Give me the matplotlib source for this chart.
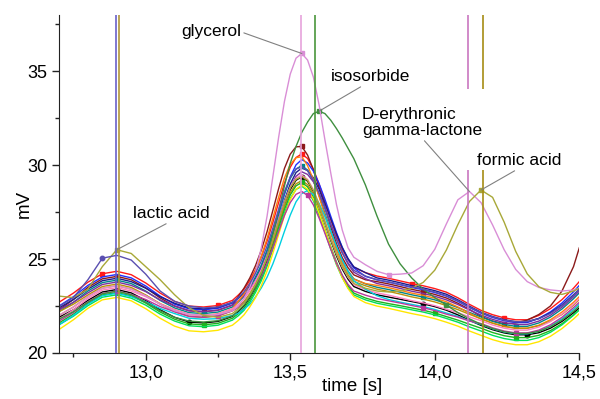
import matplotlib
matplotlib.use("Agg")
import matplotlib.pyplot as plt
from matplotlib.ticker import MultipleLocator, FuncFormatter

plt.rcParams["font.family"] = ["Liberation Sans", "DejaVu Sans"]

# sampling times of the exported traces (s), finer around the main peak
time_s = [12.70, 12.75, 12.80, 12.85, 12.90, 12.95, 13.00, 13.05, 13.10, 13.15,
          13.20, 13.25, 13.30,
          13.32, 13.34, 13.36, 13.38, 13.40, 13.42, 13.44, 13.46, 13.48, 13.50,
          13.52, 13.54, 13.56, 13.58, 13.60, 13.62, 13.64, 13.66, 13.68, 13.70,
          13.72,
          13.76, 13.80, 13.84, 13.88, 13.92, 13.96, 14.00, 14.04, 14.08, 14.12,
          14.16, 14.20, 14.24, 14.28, 14.32, 14.36, 14.40, 14.44, 14.48, 14.50]

# detector signal per run (mV)
run_black = [21.9, 22.3, 22.8, 23.25, 23.38, 23.2, 22.8, 22.3, 21.9, 21.65, 21.6, 21.68, 21.95,
             22.2, 22.5, 22.95, 23.5, 24.15, 24.95, 25.9, 26.92, 27.9, 28.7, 29.2, 29.38, 29.15, 28.6, 27.82, 26.92, 26.01, 25.17, 24.47, 23.93, 23.54,
             23.28, 23.1, 22.98, 22.86, 22.74, 22.62, 22.47, 22.28, 22.03, 21.74, 21.47, 21.24, 21.07, 20.97, 20.97, 21.08, 21.32, 21.68, 22.14, 22.4]
run_red = [22.7, 23.19, 23.77, 24.22, 24.35, 24.17, 23.73, 23.19, 22.75, 22.5, 22.45, 22.53, 22.8,
           23.08, 23.39, 23.86, 24.44, 25.12, 25.96, 26.96, 28.02, 29.05, 29.89, 30.41, 30.6, 30.36, 29.79, 28.99, 28.05, 27.11, 26.24, 25.52, 24.96, 24.56,
           24.28, 24.1, 23.98, 23.84, 23.7, 23.58, 23.43, 23.24, 22.94, 22.59, 22.27, 22.04, 21.87, 21.77, 21.77, 22.0, 22.36, 22.84, 23.45, 23.8]
run_wine = [22.3, 22.85, 23.5, 23.95, 24.08, 23.9, 23.47, 22.93, 22.5, 22.25, 22.2, 22.28, 22.55,
            23.0, 23.45, 23.99, 24.66, 25.48, 26.47, 27.6, 28.76, 29.83, 30.59, 30.98, 31.0, 30.54, 29.76, 28.81, 27.77, 26.74, 25.82, 25.08, 24.54, 24.16,
            23.9, 23.8, 23.68, 23.54, 23.39, 23.27, 23.12, 22.93, 22.65, 22.32, 21.95, 21.7, 21.55, 21.6, 21.75, 22.05, 22.5, 23.3, 24.6, 25.6]
run_blue = [22.5, 23.0, 23.6, 24.05, 24.18, 24.0, 23.57, 23.03, 22.6, 22.35, 22.3, 22.38, 22.65,
            22.92, 23.23, 23.6, 24.05, 24.64, 25.4, 26.34, 27.39, 28.46, 29.38, 30.02, 30.3, 30.12, 29.69, 29.01, 28.19, 27.29, 26.41, 25.63, 25.0, 24.53,
            24.08, 23.9, 23.78, 23.64, 23.49, 23.37, 23.22, 23.03, 22.75, 22.42, 22.12, 21.89, 21.72, 21.62, 21.62, 21.84, 22.19, 22.66, 23.26, 23.6]
run_navy = [22.4, 22.85, 23.4, 23.85, 23.98, 23.8, 23.45, 23.0, 22.65, 22.4, 22.35, 22.43, 22.7,
            22.93, 23.2, 23.58, 23.99, 24.54, 25.24, 26.13, 27.12, 28.13, 29.0, 29.61, 29.85, 29.72, 29.33, 28.72, 27.98, 27.15, 26.34, 25.61, 25.03, 24.59,
            24.28, 24.0, 23.88, 23.74, 23.59, 23.47, 23.32, 23.13, 22.83, 22.49, 22.17, 21.94, 21.77, 21.67, 21.67, 21.84, 22.14, 22.56, 23.1, 23.4]
run_teal = [22.2, 22.7, 23.3, 23.75, 23.88, 23.7, 23.3, 22.8, 22.4, 22.15, 22.1, 22.18, 22.45,
            22.71, 23.01, 23.47, 24.02, 24.68, 25.49, 26.46, 27.49, 28.48, 29.29, 29.8, 29.98, 29.74, 29.18, 28.37, 27.44, 26.5, 25.64, 24.91, 24.36, 23.95,
            23.68, 23.5, 23.38, 23.24, 23.1, 22.98, 22.83, 22.64, 22.42, 22.16, 21.92, 21.69, 21.52, 21.42, 21.42, 21.6, 21.91, 22.34, 22.89, 23.2]
run_purple = [22.3, 22.7, 23.2, 23.65, 23.78, 23.6, 23.27, 22.83, 22.5, 22.25, 22.2, 22.28, 22.55,
              22.78, 23.05, 23.42, 23.83, 24.37, 25.07, 25.95, 26.94, 27.94, 28.81, 29.41, 29.65, 29.51, 29.12, 28.49, 27.74, 26.89, 26.07, 25.33, 24.74, 24.3,
              23.96, 23.7, 23.58, 23.44, 23.29, 23.17, 23.02, 22.83, 22.58, 22.29, 22.02, 21.79, 21.62, 21.52, 21.52, 21.7, 22.01, 22.44, 22.99, 23.3]
run_orange = [22.0, 22.45, 23.0, 23.45, 23.58, 23.4, 23.07, 22.63, 22.3, 22.05, 22.0, 22.08, 22.35,
              22.75, 23.15, 23.72, 24.37, 25.16, 26.1, 27.19, 28.3, 29.32, 30.04, 30.4, 30.45, 29.98, 29.23, 28.32, 27.34, 26.37, 25.5, 24.8, 24.29, 23.93,
              23.7, 23.6, 23.48, 23.34, 23.19, 23.07, 22.92, 22.73, 22.45, 22.12, 21.82, 21.59, 21.42, 21.32, 21.32, 21.48, 21.77, 22.18, 22.7, 23.0]
run_golden = [22.2, 22.6, 23.09, 23.54, 23.67, 23.49, 23.09, 22.6, 22.2, 21.95, 21.9, 21.98, 22.25,
              22.46, 22.74, 23.16, 23.68, 24.29, 25.04, 25.92, 26.88, 27.8, 28.54, 29.01, 29.18, 28.97, 28.46, 27.74, 26.92, 26.08, 25.31, 24.66, 24.16, 23.81,
              23.58, 23.4, 23.28, 23.14, 22.99, 22.87, 22.72, 22.53, 22.31, 22.06, 21.82, 21.59, 21.42, 21.32, 21.32, 21.45, 21.7, 22.05, 22.55, 22.85]
run_pink = [21.8, 22.3, 22.9, 23.35, 23.48, 23.3, 23.0, 22.6, 22.3, 22.05, 22.0, 22.08, 22.35,
            22.58, 22.87, 23.3, 23.83, 24.45, 25.22, 26.13, 27.12, 28.06, 28.83, 29.31, 29.48, 29.25, 28.7, 27.92, 27.02, 26.11, 25.27, 24.57, 24.03, 23.64,
            23.38, 23.2, 23.08, 22.94, 22.79, 22.67, 22.52, 22.33, 22.15, 21.92, 21.72, 21.49, 21.32, 21.22, 21.22, 21.38, 21.67, 22.08, 22.6, 22.9]
run_green = [21.6, 22.07, 22.64, 23.09, 23.22, 23.04, 22.66, 22.18, 21.8, 21.55, 21.5, 21.58, 21.85,
             22.09, 22.38, 22.82, 23.35, 23.98, 24.76, 25.69, 26.68, 27.64, 28.42, 28.9, 29.08, 28.85, 28.29, 27.51, 26.6, 25.68, 24.84, 24.13, 23.59, 23.19,
             22.93, 22.75, 22.63, 22.52, 22.4, 22.28, 22.13, 21.94, 21.75, 21.53, 21.32, 21.09, 20.92, 20.82, 20.82, 20.94, 21.19, 21.56, 22.03, 22.3]
run_lime = [21.5, 21.96, 22.52, 22.97, 23.1, 22.92, 22.55, 22.07, 21.7, 21.45, 21.4, 21.48, 21.75,
            21.98, 22.27, 22.7, 23.23, 23.85, 24.62, 25.53, 26.52, 27.46, 28.23, 28.71, 28.88, 28.65, 28.11, 27.33, 26.44, 25.54, 24.7, 24.01, 23.47, 23.09,
            22.83, 22.65, 22.53, 22.42, 22.3, 22.18, 22.03, 21.84, 21.64, 21.39, 21.17, 20.94, 20.77, 20.67, 20.67, 20.82, 21.1, 21.5, 22.01, 22.3]
run_cyan = [21.5, 22.0, 22.6, 23.05, 23.18, 23.0, 22.73, 22.37, 22.1, 21.85, 21.8, 21.83, 22.0,
            22.11, 22.33, 22.59, 22.99, 23.47, 24.04, 24.75, 25.58, 26.48, 27.34, 28.05, 28.49, 28.65, 28.44, 27.96, 27.27, 26.48, 25.68, 24.94, 24.33, 23.85,
            23.4, 23.05, 22.85, 22.71, 22.59, 22.47, 22.32, 22.13, 21.95, 21.72, 21.52, 21.29, 21.12, 21.02, 21.02, 21.16, 21.43, 21.82, 22.32, 22.6]
run_yellow = [21.25, 21.77, 22.38, 22.83, 22.96, 22.78, 22.36, 21.85, 21.43, 21.18, 21.13, 21.21, 21.48,
              21.73, 22.03, 22.45, 22.95, 23.59, 24.37, 25.31, 26.32, 27.32, 28.17, 28.72, 28.94, 28.72, 28.2, 27.44, 26.55, 25.62, 24.75, 24.02, 23.43, 23.01,
              22.68, 22.5, 22.38, 22.24, 22.1, 21.98, 21.83, 21.64, 21.43, 21.17, 20.94, 20.71, 20.54, 20.44, 20.44, 20.6, 20.89, 21.3, 21.81, 22.1]
run_magenta = [21.7, 22.16, 22.72, 23.17, 23.3, 23.12, 22.85, 22.47, 22.2, 21.95, 21.9, 21.98, 22.25,
               22.42, 22.68, 23.06, 23.54, 24.1, 24.79, 25.6, 26.48, 27.33, 28.01, 28.45, 28.6, 28.39, 27.89, 27.18, 26.37, 25.54, 24.78, 24.14, 23.65, 23.3,
               23.08, 22.9, 22.78, 22.66, 22.53, 22.41, 22.26, 22.07, 21.91, 21.7, 21.57, 21.34, 21.17, 21.07, 21.07, 21.22, 21.5, 21.9, 22.42, 22.7]

# runs that carry the identified extra peaks
run_lactic = [22.47, 22.95, 23.9, 25.05, 25.2, 24.95, 24.2, 23.3, 22.75, 22.5, 22.4, 22.45, 22.7,
              22.95, 23.25, 23.7, 24.25, 24.9, 25.7, 26.65, 27.65, 28.6, 29.35, 29.8, 29.92, 29.7, 29.2, 28.5, 27.7, 26.85, 26.05, 25.35, 24.8, 24.4,
              24.1, 23.9, 23.78, 23.65, 23.52, 23.4, 23.25, 23.05, 22.78, 22.45, 22.15, 21.92, 21.75, 21.66, 21.68, 21.82, 22.1, 22.52, 23.05, 23.4]
run_formic = [23.03, 22.95, 23.4, 24.6, 25.5, 25.3, 24.6, 23.9, 23.1, 22.4, 22.0, 21.9, 22.1,
              22.35, 22.65, 23.1, 23.65, 24.3, 25.1, 26.05, 27.05, 28.0, 28.8, 29.25, 29.4, 29.2, 28.65, 27.9, 27.0, 26.1, 25.28, 24.6, 24.07, 23.7,
              23.45, 23.3, 23.25, 23.3, 23.44, 23.76, 24.41, 25.48, 26.84, 28.07, 28.68, 28.29, 26.97, 25.41, 24.21, 23.53, 23.23, 23.12, 23.3, 23.45]
run_glycerol = [22.0, 22.45, 23.0, 23.45, 23.58, 23.4, 23.05, 22.6, 22.25, 22.05, 22.0, 22.05, 22.25,
                22.5, 22.9, 23.5, 24.3, 25.6, 27.3, 29.4, 31.5, 33.4, 34.85, 35.7, 35.95, 35.6, 34.7, 33.2, 31.35, 29.6, 27.9, 26.55, 25.6, 25.1,
                24.7, 24.35, 24.17, 24.2, 24.26, 24.65, 25.52, 26.87, 28.16, 28.6, 28.01, 26.82, 25.5, 24.45, 23.8, 23.49, 23.36, 23.3, 23.35, 23.45]
run_isosorbide = [21.8, 22.2, 22.7, 23.15, 23.3, 23.1, 22.7, 22.25, 21.9, 21.7, 21.65, 21.72, 21.98,
                  22.25, 22.55, 23.0, 23.55, 24.2, 25.1, 26.3, 27.6, 28.9, 30.1, 31.0, 31.75, 32.3, 32.75, 32.88, 32.75, 32.4, 31.95, 31.45, 30.9, 30.35,
                  28.95, 27.3, 25.8, 24.75, 24.0, 23.4, 22.95, 22.55, 22.15, 21.82, 21.53, 21.3, 21.13, 21.04, 21.04, 21.15, 21.4, 21.75, 22.22, 22.5]

# retention times of the identified peaks (s)
peak_times = [12.897, 12.906, 13.537, 13.586, 14.114, 14.167]
peak_colors = ["#6a60c8", "#b0963a", "#e6a3dc", "#4a963c", "#c977c0", "#a58c14"]

# (trace, colour, marker, points carrying a marker)
runs = [
    (run_black, "#000000", "o", [4, 9, 24, 39, 48]),
    (run_red, "#ff1a1a", "s", [3, 11, 24, 38, 46]),
    (run_wine, "#8b1a1a", "s", [4, 10, 24, 39, 46]),
    (run_blue, "#1f2fff", None, None),
    (run_navy, "#1c1c8c", None, None),
    (run_teal, "#00868b", "s", [4, 10, 24, 39, 47]),
    (run_purple, "#7d2f9e", None, None),
    (run_orange, "#ff7f0e", None, None),
    (run_golden, "#b8900a", None, None),
    (run_pink, "#ff7fbf", None, None),
    (run_green, "#1fb21f", "s", [4, 10, 24, 40, 47]),
    (run_lime, "#00e05a", None, None),
    (run_cyan, "#00cfe0", None, None),
    (run_yellow, "#ffe600", None, None),
    (run_magenta, "#b8389c", "s", [4, 11, 25, 39, 47]),
    (run_isosorbide, "#3f8f3f", "s", [27, 41]),
    (run_glycerol, "#d98ed6", "s", [24, 36]),
    (run_formic, "#a8a838", "s", [4, 44]),
    (run_lactic, "#5a4fb0", "o", [3]),
]

fig = plt.figure(figsize=(6.0, 3.99), dpi=100)
ax = fig.add_axes([0.0983, 0.1153, 0.8672, 0.8471])

for values, color, marker, marks in runs:
    if marker:
        ax.plot(time_s, values, color=color, lw=1.0, marker=marker, ms=3.2,
                markevery=marks, zorder=2)
    else:
        ax.plot(time_s, values, color=color, lw=1.0, zorder=2)

# peak markers; the last two are interrupted behind their labels
label_gap = (29.75, 34.05)
for x, c in zip(peak_times[:4], peak_colors[:4]):
    ax.axvline(x, color=c, lw=1.2, zorder=3)
for x, c in zip(peak_times[4:], peak_colors[4:]):
    ax.vlines([x, x], [20, label_gap[1]], [label_gap[0], 38], color=c, lw=1.2, zorder=3)

leader = dict(arrowstyle="-", color="#808080", lw=0.8, shrinkA=0, shrinkB=0)
ax.annotate("lactic acid", xy=(time_s[4], run_formic[4]), xytext=(13.089, 27.03),
            ha="center", va="bottom", fontsize=12.5,
            arrowprops=dict(leader, relpos=(0.5, 0)))
ax.annotate("glycerol", xy=(time_s[24], run_glycerol[24]), xytext=(13.33, 37.1),
            ha="right", va="center", fontsize=12.5,
            arrowprops=dict(leader, relpos=(1, 0.5)))
ax.annotate("isosorbide", xy=(time_s[27], run_isosorbide[27]), xytext=(13.779, 34.32),
            ha="center", va="bottom", fontsize=12.5,
            arrowprops=dict(leader, relpos=(0.43, 0)))
ax.annotate("D-erythronic\ngamma-lactone", xy=(time_s[43], run_glycerol[43]),
            xytext=(13.748, 31.45), ha="left", va="bottom", fontsize=12.5,
            multialignment="left", linespacing=1.1,
            arrowprops=dict(leader, relpos=(0.5, 0)))
ax.annotate("formic acid", xy=(time_s[44], run_formic[44]), xytext=(14.293, 29.85),
            ha="center", va="bottom", fontsize=12.5,
            arrowprops=dict(leader, relpos=(0.5, 0)))

ax.set_xlim(12.7, 14.5)
ax.set_ylim(20, 38)
ax.xaxis.set_major_locator(MultipleLocator(0.5))
ax.xaxis.set_minor_locator(MultipleLocator(0.25))
ax.yaxis.set_major_locator(MultipleLocator(5))
ax.yaxis.set_minor_locator(MultipleLocator(2.5))
ax.xaxis.set_major_formatter(FuncFormatter(lambda v, _: f"{v:.1f}".replace(".", ",")))
ax.tick_params(which="major", labelsize=13, length=5, width=1, color="#222222")
ax.tick_params(which="minor", length=3, width=1, color="#222222")

for side in ["top", "right"]:
    ax.spines[side].set_visible(False)
for side in ["left", "bottom"]:
    ax.spines[side].set_color("#222222")

ax.set_xlabel("time [s]", fontsize=13.5)
ax.xaxis.set_label_coords(0.563, -0.075)
ax.set_ylabel("mV", fontsize=13.5)
ax.yaxis.set_label_coords(-0.05, 0.44)

fig.savefig("out.png", dpi=100)
